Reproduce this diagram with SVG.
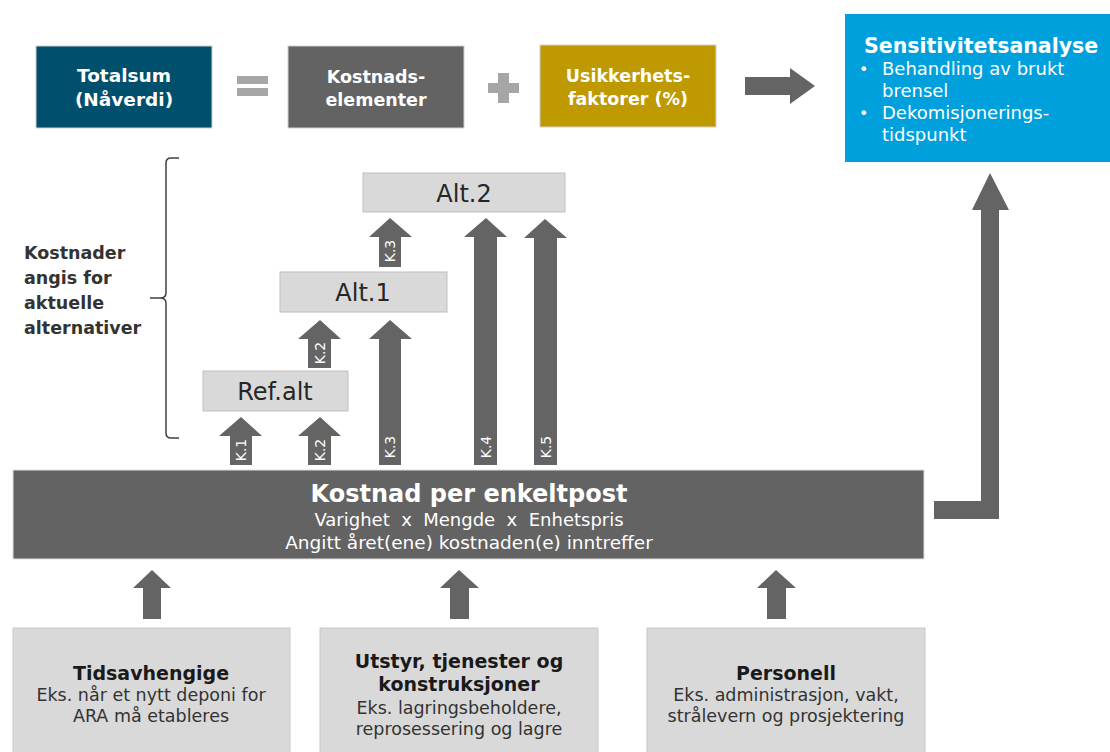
<svg xmlns="http://www.w3.org/2000/svg" width="1110" height="752" viewBox="0 0 1110 752">
<style>
text{font-family:"DejaVu Sans","Liberation Sans",sans-serif}
.w{fill:#fff}
.b{font-weight:bold}
.c{text-anchor:middle}
.arr{fill:#646464}
.alt{fill:#d9d9d9;stroke:#bfbfbf;stroke-width:1}
.altt{font-size:24px;fill:#262626;text-anchor:middle}
.k{font-size:14px;fill:#fff;text-anchor:middle}
.bot{fill:#d9d9d9;stroke:#c8c8c8;stroke-width:1}
.bt{font-size:19px;font-weight:bold;fill:#1a1a1a;text-anchor:middle}
.bs{font-size:17.5px;fill:#333;text-anchor:middle}
.lab{font-size:17.5px;font-weight:bold;fill:#333}
</style>
<rect width="1110" height="752" fill="#fff"/>

<g id="totalsum">
<rect x="36" y="46" width="176" height="82" fill="#004f6d" stroke="#d0d0d0" stroke-width="1"/>
<text class="w b c" x="124" y="82" font-size="18.5">Totalsum</text>
<text class="w b c" x="124" y="106" font-size="18.5">(Nåverdi)</text>
</g>
<g id="equals">
<rect x="237" y="76" width="31" height="8" fill="#a6a6a6"/>
<rect x="237" y="88" width="31" height="8" fill="#a6a6a6"/>
</g>
<g id="kostnadselementer">
<rect x="288" y="46" width="176" height="82" fill="#636363" stroke="#d0d0d0" stroke-width="1"/>
<text class="w b c" x="376" y="83" font-size="17.5">Kostnads-</text>
<text class="w b c" x="376" y="106" font-size="17.5">elementer</text>
</g>
<g id="plus">
<rect x="488" y="83" width="31" height="10" fill="#a6a6a6"/>
<rect x="498" y="73" width="11" height="30" fill="#a6a6a6"/>
</g>
<g id="usikkerhet">
<rect x="540" y="45" width="176" height="82" fill="#bf9900" stroke="#d0d0d0" stroke-width="1"/>
<text class="w b c" x="628" y="82" font-size="17.5">Usikkerhets-</text>
<text class="w b c" x="628" y="105" font-size="17.5">faktorer (%)</text>
</g>
<g id="sensitivitet">
<rect x="845" y="14" width="265" height="148" fill="#00a0dc"/>
<text class="w b" x="864" y="53" font-size="20.5">Sensitivitetsanalyse</text>
<text class="w" x="859" y="75" font-size="16">•</text>
<text class="w" x="882" y="75" font-size="18">Behandling av brukt</text>
<text class="w" x="882" y="97" font-size="18">brensel</text>
<text class="w" x="859" y="119" font-size="16">•</text>
<text class="w" x="882" y="119" font-size="18">Dekomisjonerings-</text>
<text class="w" x="882" y="141" font-size="18">tidspunkt</text>
</g>

<g id="brace-label">
<path d="M179,158 H171 Q166,158 166,163 V293 Q166,298 160,298 H150 H160 Q166,298 166,303 V433 Q166,438 171,438 H179" fill="none" stroke="#404040" stroke-width="1.5"/>
<text class="lab" x="24" y="259">Kostnader</text>
<text class="lab" x="24" y="284">angis for</text>
<text class="lab" x="24" y="309">aktuelle</text>
<text class="lab" x="24" y="334">alternativer</text>
</g>

<g id="alt2">
<rect class="alt" x="363" y="173" width="202" height="39"/>
<text class="altt" x="464" y="202">Alt.2</text>
</g>
<g id="alt1">
<rect class="alt" x="280" y="272" width="167" height="40"/>
<text class="altt" x="363" y="301">Alt.1</text>
</g>
<g id="refalt">
<rect class="alt" x="203" y="371" width="145" height="40"/>
<text class="altt" x="275" y="400">Ref.alt</text>
</g>

<g id="kostnad-per-enkeltpost">
<rect x="13" y="470" width="911" height="89" fill="#636363" stroke="#e0e0e0" stroke-width="1"/>
<text class="w b c" x="469" y="502" font-size="24">Kostnad per enkeltpost</text>
<text class="w c" x="469" y="526" font-size="18" xml:space="preserve">Varighet  x  Mengde  x  Enhetspris</text>
<text class="w c" x="469" y="549" font-size="18.5">Angitt året(ene) kostnaden(e) inntreffer</text>
</g>

<g id="tidsavhengige">
<rect class="bot" x="13" y="628" width="277" height="130"/>
<text class="bt" x="151" y="680">Tidsavhengige</text>
<text class="bs" x="151" y="701">Eks. når et nytt deponi for</text>
<text class="bs" x="151" y="722">ARA må etableres</text>
</g>
<g id="utstyr">
<rect class="bot" x="320" y="628" width="278" height="130"/>
<text class="bt" x="459" y="668">Utstyr, tjenester og</text>
<text class="bt" x="459" y="691">konstruksjoner</text>
<text class="bs" x="459" y="714">Eks. lagringsbeholdere,</text>
<text class="bs" x="459" y="735">reprosessering og lagre</text>
</g>
<g id="personell">
<rect class="bot" x="647" y="628" width="278" height="130"/>
<text class="bt" x="786" y="680">Personell</text>
<text class="bs" x="786" y="701">Eks. administrasjon, vakt,</text>
<text class="bs" x="786" y="722">strålevern og prosjektering</text>
</g>

<g id="connectors">
<polygon class="arr" points="745,77 790,77 790,68 815,86 790,104 790,95 745,95"/>
<polygon class="arr" points="934,501 981,501 981,210 972,210 990,173 1009,210 999,210 999,519 934,519"/>
<polygon class="arr" points="143,619 143,588 133,588 152,570 171,588 161,588 161,619"/>
<polygon class="arr" points="450,619 450,588 440,588 459,570 479,588 469,588 469,619"/>
<polygon class="arr" points="767,619 767,588 757,588 776,570 796,588 786,588 786,619"/>

<polygon class="arr" points="230,465 230,436 219,436 241,417 262,436 252,436 252,465"/>
<text class="k" transform="translate(246,450) rotate(-90)">K.1</text>
<polygon class="arr" points="308,465 308,436 298,436 320,417 341,436 331,436 331,465"/>
<text class="k" transform="translate(325,450) rotate(-90)">K.2</text>
<polygon class="arr" points="308,368 308,339 298,339 320,320 341,339 331,339 331,368"/>
<text class="k" transform="translate(325,353) rotate(-90)">K.2</text>
<polygon class="arr" points="379,267 379,237 369,237 390,218 412,237 401,237 401,267"/>
<text class="k" transform="translate(395,251) rotate(-90)">K.3</text>
<polygon class="arr" points="379,465 379,339 369,339 390,320 412,339 401,339 401,465"/>
<text class="k" transform="translate(395,447) rotate(-90)">K.3</text>
<polygon class="arr" points="474,465 474,237 464,237 486,218 507,237 497,237 497,465"/>
<text class="k" transform="translate(491,447) rotate(-90)">K.4</text>
<polygon class="arr" points="534,465 534,238 524,238 545,219 567,238 557,238 557,465"/>
<text class="k" transform="translate(551,447) rotate(-90)">K.5</text>
</g>
</svg>
